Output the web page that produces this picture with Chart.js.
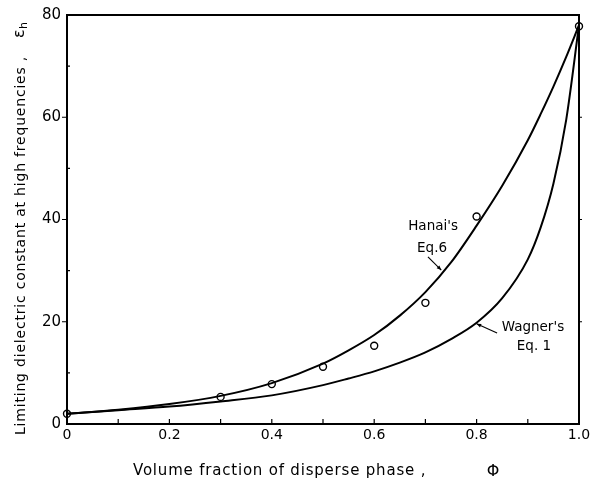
<!DOCTYPE html>
<html>
<head>
<meta charset="utf-8">
<script src="https://cdn.jsdelivr.net/npm/chart.js@4/dist/chart.umd.min.js"></script>
<style>
  html, body { margin: 0; padding: 0; background: #fff; }
  #wrap { width: 594px; height: 478px; }
</style>
</head>
<body>
<div id="wrap"><canvas id="c"></canvas></div>
<script>
// Volume fraction grid for the two model curves
const phi = [0, 0.1, 0.2, 0.3, 0.4, 0.5, 0.55, 0.6, 0.65, 0.7, 0.75, 0.8, 0.85, 0.9, 0.925, 0.95, 0.975, 1.0];
// Hanai's Eq. 6
const hanaiEps = [2.0, 2.8, 3.9, 5.5, 8.0, 11.8, 14.4, 17.4, 21.2, 25.8, 31.6, 38.8, 46.6, 55.5, 60.6, 66.0, 71.8, 78.0];
// Wagner's Eq. 1
const wagnerEps = [2.0, 2.7, 3.4, 4.4, 5.6, 7.6, 8.9, 10.3, 12.0, 14.0, 16.6, 19.8, 24.6, 32.2, 38.4, 47.0, 59.5, 78.0];
// Measured limiting dielectric constants
const measuredPhi = [0, 0.3, 0.4, 0.5, 0.6, 0.7, 0.8, 1.0];
const measuredEps = [2.0, 5.3, 7.8, 11.2, 15.3, 23.7, 40.6, 77.8];

// Axis ticks
const xTicks = [0, 0.2, 0.4, 0.6, 0.8, 1.0];
const xTickLabels = ['0', '0.2', '0.4', '0.6', '0.8', '1.0'];
const xMinorTicks = [0.1, 0.2, 0.3, 0.4, 0.5, 0.6, 0.7, 0.8, 0.9];
const yTicks = [0, 20, 40, 60, 80];
const yTickLabels = ['0', '20', '40', '60', '80'];
const yMinorTicks = [10, 30, 50, 70];
const rightTicks = [20, 40, 60];

// Axis titles
const xTitle = 'Volume fraction of disperse phase ,';
const xSymbol = '\u03A6';
const yTitle = 'Limiting dielectric constant at high frequencies ,';
const ySymbol = '\u03B5';
const ySymbolSub = 'h';

// Curve labels and pointer arrows (data coordinates)
const notes = [
  { text: "Hanai's", x: 0.715, y: 38.6 },
  { text: "Eq.6", x: 0.713, y: 34.3 },
  { text: "Wagner's", x: 0.910, y: 18.9 },
  { text: "Eq. 1", x: 0.912, y: 15.2 }
];
const pointers = [
  { from: [0.705, 32.7], to: [0.731, 30.1] },
  { from: [0.840, 17.8], to: [0.800, 19.6] }
];

const FONT = "'DejaVu Sans', sans-serif";

const pairs = (xs, ys) => xs.map((v, i) => ({ x: v, y: ys[i] }));

// Frame, inward tick marks, axis titles and annotations
const decorations = {
  id: 'decorations',
  afterDatasetsDraw(chart) {
    const { ctx, chartArea: { left, right, top, bottom }, scales: { x, y } } = chart;
    ctx.save();
    ctx.strokeStyle = '#000';
    ctx.lineWidth = 2;
    ctx.strokeRect(left, top, right - left, bottom - top);

    ctx.lineWidth = 1.2;
    ctx.beginPath();
    xMinorTicks.forEach(v => {
      const px = x.getPixelForValue(v);
      ctx.moveTo(px, bottom);
      ctx.lineTo(px, bottom - 5);
    });
    yTicks.slice(1, -1).forEach(v => {
      const py = y.getPixelForValue(v);
      ctx.moveTo(left, py);
      ctx.lineTo(left - 5, py);
    });
    yMinorTicks.forEach(v => {
      const py = y.getPixelForValue(v);
      ctx.moveTo(left, py);
      ctx.lineTo(left + 3, py);
    });
    rightTicks.forEach(v => {
      const py = y.getPixelForValue(v);
      ctx.moveTo(right, py);
      ctx.lineTo(right + 3, py);
    });
    ctx.stroke();

    ctx.fillStyle = '#000';

    // x-axis title
    ctx.save();
    ctx.font = '15px ' + FONT;
    ctx.letterSpacing = '0.8px';
    ctx.textAlign = 'left';
    ctx.textBaseline = 'alphabetic';
    ctx.fillText(xTitle, 133, 475);
    ctx.letterSpacing = '0px';
    ctx.font = '16px ' + FONT;
    ctx.textAlign = 'center';
    ctx.fillText(xSymbol, 493, 476);
    ctx.restore();

    // y-axis title (reads bottom to top)
    ctx.save();
    ctx.translate(25, 435);
    ctx.rotate(-Math.PI / 2);
    ctx.font = '14px ' + FONT;
    ctx.letterSpacing = '0.8px';
    ctx.textAlign = 'left';
    ctx.textBaseline = 'alphabetic';
    ctx.fillText(yTitle, 0, 0);
    ctx.letterSpacing = '0px';
    ctx.font = '16px ' + FONT;
    ctx.fillText(ySymbol, 397, -1);
    ctx.font = '11px ' + FONT;
    ctx.fillText(ySymbolSub, 406, 2);
    ctx.restore();

    // curve labels
    ctx.font = '13.5px ' + FONT;
    ctx.textAlign = 'center';
    ctx.textBaseline = 'middle';
    notes.forEach(n => {
      ctx.fillText(n.text, x.getPixelForValue(n.x), y.getPixelForValue(n.y));
    });

    ctx.lineWidth = 1.1;
    pointers.forEach(p => {
      const x0 = x.getPixelForValue(p.from[0]), y0 = y.getPixelForValue(p.from[1]);
      const x1 = x.getPixelForValue(p.to[0]), y1 = y.getPixelForValue(p.to[1]);
      ctx.beginPath();
      ctx.moveTo(x0, y0);
      ctx.lineTo(x1, y1);
      ctx.stroke();
      const a = Math.atan2(y1 - y0, x1 - x0);
      const h = 5;
      ctx.beginPath();
      ctx.moveTo(x1, y1);
      ctx.lineTo(x1 - h * Math.cos(a - 0.4), y1 - h * Math.sin(a - 0.4));
      ctx.lineTo(x1 - h * Math.cos(a + 0.4), y1 - h * Math.sin(a + 0.4));
      ctx.closePath();
      ctx.fill();
    });
    ctx.restore();
  }
};

new Chart(document.getElementById('c'), {
  type: 'scatter',
  data: {
    datasets: [
      {
        label: "Hanai's Eq. 6",
        data: pairs(phi, hanaiEps),
        showLine: true,
        borderColor: '#000',
        borderWidth: 2,
        pointRadius: 0,
        cubicInterpolationMode: 'monotone'
      },
      {
        label: "Wagner's Eq. 1",
        data: pairs(phi, wagnerEps),
        showLine: true,
        borderColor: '#000',
        borderWidth: 2,
        pointRadius: 0,
        cubicInterpolationMode: 'monotone'
      },
      {
        label: 'Measured',
        data: pairs(measuredPhi, measuredEps),
        showLine: false,
        pointRadius: 3.5,
        pointBorderWidth: 1.4,
        pointBackgroundColor: '#fff',
        pointBorderColor: '#000'
      }
    ]
  },
  options: {
    responsive: true,
    maintainAspectRatio: false,
    animation: false,
    events: [],
    clip: false,
    layout: { padding: { top: 14, right: 15, left: 0, bottom: 0 } },
    plugins: { legend: { display: false }, tooltip: { enabled: false } },
    scales: {
      x: {
        type: 'linear',
        min: 0,
        max: 1,
        afterBuildTicks: s => { s.ticks = xTicks.map(v => ({ value: v })); },
        afterFit: s => { s.height = 54; },
        grid: { display: false, drawTicks: false },
        border: { display: false },
        ticks: {
          color: '#000',
          font: { family: FONT, size: 14 },
          padding: 3,
          maxRotation: 0,
          callback: (v, i) => xTickLabels[i]
        }
      },
      y: {
        min: 0,
        max: 80,
        afterBuildTicks: s => { s.ticks = yTicks.map(v => ({ value: v })); },
        afterFit: s => { s.width = 67; },
        grid: { display: false, drawTicks: false },
        border: { display: false },
        ticks: {
          color: '#000',
          font: { family: FONT, size: 15 },
          padding: 6,
          callback: (v, i) => yTickLabels[i]
        }
      }
    }
  },
  plugins: [decorations]
});
</script>
</body>
</html>
